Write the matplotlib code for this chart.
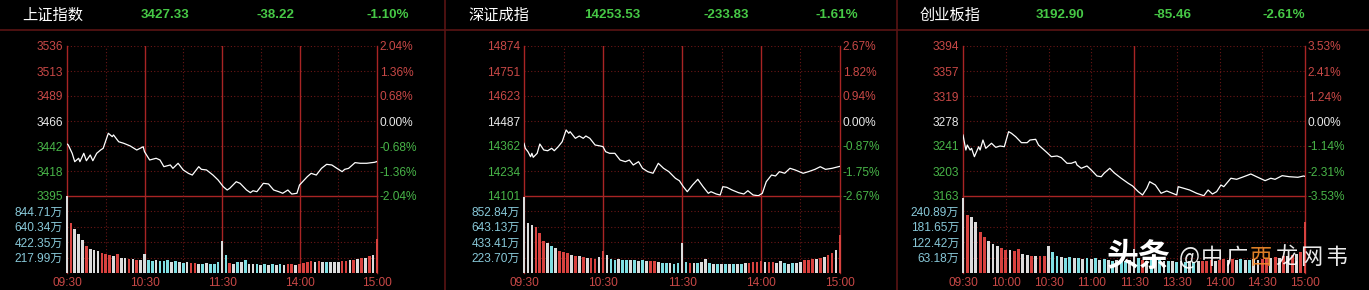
import numpy as np
import matplotlib
matplotlib.use('Agg')
import matplotlib.pyplot as plt
from matplotlib.lines import Line2D

plt.rcParams['font.family'] = ['Liberation Sans', 'Noto Sans CJK SC', 'DejaVu Sans']

# ---------------- data ----------------
names = ['上证指数', '深证成指', '创业板指']
last_vals = ['3427.33', '14253.53', '3192.90']
chg_vals = ['-38.22', '-233.83', '-85.46']
pct_vals = ['-1.10%', '-1.61%', '-2.61%']

left_labels = [
    ['3536', '3513', '3489', '3466', '3442', '3418', '3395'],
    ['14874', '14751', '14623', '14487', '14362', '14234', '14101'],
    ['3394', '3357', '3319', '3278', '3241', '3203', '3163'],
]
right_labels = [
    ['2.04%', '1.36%', '0.68%', '0.00%', '-0.68%', '-1.36%', '-2.04%'],
    ['2.67%', '1.82%', '0.94%', '0.00%', '-0.87%', '-1.75%', '-2.67%'],
    ['3.53%', '2.41%', '1.24%', '0.00%', '-1.14%', '-2.31%', '-3.53%'],
]
price_lo = [3394.85, 14100.5, 3162.63]
price_hi = [3536.25, 14874.2, 3394.08]

vol_labels = [
    ['844.71万', '640.34万', '422.35万', '217.99万'],
    ['852.84万', '643.13万', '433.41万', '223.70万'],
    ['240.89万', '181.65万', '122.42万', '63.18万'],
]
vol_max = [1056.0, 1062.55, 300.12]

# minute index (0 = 09:30, 120 = 11:30/13:00, 240 = 15:00)
p1_t = [0,1,4,6,9,10,13,15,18,20,23,26,28,32,35,36,40,44,49,54,59,60,64,69,72,75,80,82,86,90,
        94,97,102,104,108,113,117,121,124,126,131,134,139,142,144,147,152,156,160,164,167,171,174,178,180,
        186,189,193,197,201,205,209,213,215,218,223,227,232,238,240]
p1_v = [3443.9,3442.9,3435.1,3427.2,3430.4,3427.2,3435.1,3428.1,3433.5,3428.1,3435.1,3438.2,3439.8,3454.0,
        3450.8,3452.4,3446.0,3444.5,3442.0,3438.2,3441.3,3436.6,3428.8,3430.4,3428.8,3422.5,3424.1,3420.9,
        3425.7,3419.4,3416.2,3414.6,3422.5,3420.0,3419.4,3414.6,3409.9,3403.6,3400.5,3402.1,3408.3,3406.8,
        3400.5,3398.0,3399.8,3398.9,3406.8,3406.2,3400.5,3398.9,3397.4,3400.5,3396.7,3397.4,3405.2,3413.0,
        3416.2,3414.6,3420.9,3424.7,3424.1,3420.9,3417.8,3420.0,3420.9,3426.3,3425.7,3425.7,3426.6,3427.33]

p2_t = [0,1,3,5,6,7,10,12,15,18,21,23,26,29,32,34,35,39,42,45,47,50,54,58,60,62,65,69,73,77,80,83,87,90,
        94,98,102,106,110,115,118,121,124,128,132,136,140,142,146,149,151,154,158,163,167,170,174,178,181,
        184,188,191,194,198,202,206,212,216,221,225,229,234,239,240]
p2_v = [14372.3,14346.5,14329,14303,14320.7,14300,14320.7,14368.7,14337.8,14334,14346.5,14334,14354.8,
        14380.6,14441,14424,14432.2,14398,14410,14398,14410,14398,14363.6,14358.4,14355,14329,14320.7,
        14320.7,14286,14277.5,14286,14260.4,14277.5,14243.4,14226,14217.8,14269.2,14243.4,14226,14191.8,
        14179.4,14148.5,14122.7,14157.2,14186.6,14148.5,14114.4,14122.7,14110.8,14105.7,14148.5,14145.4,
        14131.5,14117.5,14110.8,14127.8,14105.7,14102,14114.4,14174.3,14208.8,14203.7,14226,14217.8,
        14243.4,14234.6,14217.8,14226,14238,14251.6,14238,14243.4,14252,14253.53]

p3_t = [0,2,3,5,6,8,11,12,14,16,20,23,26,29,32,34,37,41,45,47,51,53,59,62,66,69,73,76,79,80,83,87,90,
        94,97,99,103,106,111,116,119,123,126,129,131,135,139,143,147,150,151,155,159,164,169,172,175,178,
        181,183,188,192,197,202,206,212,216,219,224,229,235,239,240]
p3_v = [3256.7,3233.6,3241.3,3233.6,3236.2,3223.3,3238.7,3233.6,3249.0,3236.2,3244.0,3237.7,3239.8,3238.7,
        3261.9,3259.4,3254.1,3244.9,3244.9,3249.0,3250.1,3241.3,3229.5,3223.3,3224.4,3221.8,3213.1,3213.1,
        3215.6,3210.5,3205.4,3209.0,3202.8,3193.5,3192.4,3197.7,3205.4,3198.6,3190.0,3182.2,3178.1,3169.3,
        3164.2,3174.5,3184.7,3179.6,3166.8,3170.4,3166.8,3164.2,3177.0,3174.5,3171.9,3166.8,3163.1,3171.9,
        3165.7,3169.3,3179.6,3177.0,3190.0,3188.4,3192.4,3196.6,3192.4,3186.3,3190.0,3188.4,3194.0,3192.4,
        3191.5,3193.5,3192.90]

# volume (万), one bar per 3 minutes starting 09:30
p1_vol = [1051,686,600,540,450,370,330,320,300,270,255,250,240,260,210,200,195,190,185,180,
          255,175,170,175,165,160,175,150,160,145,140,150,135,140,130,125,140,125,130,145,
          434,250,140,130,145,150,175,130,120,125,115,120,115,120,115,125,115,120,130,115,
          125,140,150,160,145,165,150,145,155,150,145,170,165,175,180,190,200,210,230,250,460]
p1_col = "wrwwwrwwwrrrwrwwrwrwwccwcccwcwcwrrwcwcccwcrwcwcwwcwcwcwcwrrwrrrrwrwcwwwrrwrwrwrwr"
p2_vol = [1044,687,664,641,550,435,412,366,343,298,284,275,252,229,235,220,206,210,200,215,
          298,252,200,185,190,180,185,175,180,170,175,165,160,170,150,140,135,140,130,135,
          412,145,140,135,140,150,192,135,130,125,130,125,120,130,125,130,135,140,150,145,
          170,150,145,150,140,170,135,130,140,135,150,174,180,200,190,206,220,252,275,320,527]
p2_col = "wwwrrrwcwrrrwrwrwrrwrwccwccwcwcwrrwccwccwcrwcwwcwcwcwcwcwrrrrwrrwwcwcwwrrrwrwrrwr"
p3_vol = [291,226,220,200,160,142,125,112,104,97,90,88,84,95,75,70,68,66,65,67,
          104,80,65,62,60,62,58,60,56,58,55,57,52,55,50,48,50,45,48,50,
          95,60,50,48,50,55,60,48,45,46,44,45,42,46,44,46,45,48,50,46,
          52,55,50,54,52,55,50,52,54,52,55,58,60,62,60,65,68,72,75,80,200]
p3_col = "wrwwrrwwwrrwrrwwrwrrwccwccwcwcwcwcwcwccwwcrwcwcwcwcwcwcwrrrwrrwrwcwcwwrrwrwrwrwrr"

time_ticks = [[0, 60, 120, 180, 240],
              [0, 60, 120, 180, 240],
              [0, 30, 60, 90, 120, 150, 180, 210, 240]]
time_labels = [['09:30', '10:30', '11:30', '14:00', '15:00'],
               ['09:30', '10:30', '11:30', '14:00', '15:00'],
               ['09:30', '10:00', '10:30', '11:00', '11:30', '13:30', '14:00', '14:30', '15:00']]

# ---------------- style / layout ----------------
W, H = 1369, 290
BG = '#000000'
GRID = '#6a1616'
SOLID = '#a82424'
DIV = '#5a1414'
RED_T = '#c84846'
GRN_T = '#48b448'
WHT_T = '#e8e8e8'
VOL_T = '#88c8d8'
HDR_G = '#46c846'
BAR_C = {'w': '#dcdcdc', 'r': '#d8423f', 'c': '#7fdfe3'}
FS = 8.6

panel_x = [(67, 377), (524, 840), (963, 1305)]
solid_v = [[60, 120, 180], [60, 120, 180], [120]]
dotted_v = [[30, 90, 150, 210], [30, 90, 150, 210], [30, 60, 90, 150, 180, 210]]
hdr_pos = [(22, 165, 275.5, 387.5), (468, 612.5, 726.5, 836.5), (920, 1060, 1173, 1284)]

series_t = [p1_t, p2_t, p3_t]
series_v = [p1_v, p2_v, p3_v]
vols = [p1_vol, p2_vol, p3_vol]
vcols = [p1_col, p2_col, p3_col]

fig = plt.figure(figsize=(W / 100, H / 100), dpi=100, facecolor=BG)


def add_ax(x0, y0, x1, y1):
    a = fig.add_axes([x0 / W, 1 - y1 / H, (x1 - x0) / W, (y1 - y0) / H])
    a.set_facecolor('none')
    return a


DOT = (0, (1, 2))

for i in range(3):
    x0, x1 = panel_x[i]
    lo, hi = price_lo[i], price_hi[i]
    # ---- price axes ----
    ax = add_ax(x0, 46, x1, 196)
    ax.set_xlim(0, 240)
    ax.set_ylim(lo, hi)
    yt = np.linspace(lo, hi, 7)
    for y in yt[1:]:
        ax.axhline(y, color=GRID, ls=DOT, lw=0.8)
    for xv in dotted_v[i]:
        ax.axvline(xv, color=GRID, ls=DOT, lw=0.8)
    for xv in solid_v[i]:
        ax.axvline(xv, color=SOLID, lw=1.0)
    ax.plot(series_t[i], series_v[i], color='white', lw=0.9, zorder=5)
    ax.set_yticks(yt)
    ax.set_yticklabels(left_labels[i][::-1])
    cols = [GRN_T, GRN_T, GRN_T, WHT_T, RED_T, RED_T, RED_T]
    for lbl, c in zip(ax.get_yticklabels(), cols):
        lbl.set_color(c)
    ax.tick_params(axis='y', length=0, pad=3, labelsize=FS)
    ax.set_xticks([])
    for s in ['left', 'right', 'bottom']:
        ax.spines[s].set_color(SOLID)
        ax.spines[s].set_linewidth(1.0)
    ax.spines['top'].set_visible(False)
    ax2 = ax.twinx()
    ax2.set_ylim(lo, hi)
    ax2.set_yticks(yt)
    ax2.set_yticklabels(right_labels[i][::-1])
    for lbl, c in zip(ax2.get_yticklabels(), cols):
        lbl.set_color(c)
    ax2.tick_params(axis='y', length=0, pad=2, labelsize=FS)
    for s in ax2.spines.values():
        s.set_visible(False)

    # ---- volume axes ----
    vx = add_ax(x0, 196, x1, 273)
    vx.set_xlim(0, 240)
    vmax = vol_max[i]
    vx.set_ylim(0, vmax)
    vt = [vmax * k / 5 for k in (1, 2, 3, 4)]
    for y in vt:
        vx.axhline(y, color=GRID, ls=DOT, lw=0.8)
    for xv in dotted_v[i]:
        vx.axvline(xv, color=GRID, ls=DOT, lw=0.8)
    for xv in solid_v[i]:
        vx.axvline(xv, color=SOLID, lw=1.0)
    xs = np.arange(len(vols[i])) * 3
    vx.bar(xs, vols[i], width=2.0, color=[BAR_C[c] for c in vcols[i]], zorder=4, clip_on=False)
    vx.set_yticks(vt)
    vx.set_yticklabels(vol_labels[i][::-1])
    vx.tick_params(axis='y', length=0, pad=3, labelsize=FS, labelcolor=VOL_T)
    vx.set_xticks(time_ticks[i])
    vx.set_xticklabels(time_labels[i])
    vx.tick_params(axis='x', length=0, pad=3, labelsize=FS, labelcolor=RED_T)
    for s in ['left', 'right']:
        vx.spines[s].set_color(SOLID)
        vx.spines[s].set_linewidth(1.0)
    vx.spines['top'].set_visible(False)
    vx.spines['bottom'].set_visible(False)

    # ---- header ----
    nx, vx_, cx, px = hdr_pos[i]
    fig.text(nx / W, 1 - 15 / H, names[i], color='white', fontsize=11, va='center', ha='left',
             family=['Noto Sans CJK SC', 'DejaVu Sans'])
    for s, xc in ((last_vals[i], vx_), (chg_vals[i], cx), (pct_vals[i], px)):
        fig.text(xc / W, 1 - 15 / H, s, color=HDR_G, fontsize=9.6, weight='bold', va='center', ha='center')

# dividers
for xd in (445, 897):
    fig.add_artist(Line2D([xd / W, xd / W], [0, 1], transform=fig.transFigure, color=DIV, lw=1.2))
fig.add_artist(Line2D([0, 1], [1 - 29.5 / H, 1 - 29.5 / H], transform=fig.transFigure, color=DIV, lw=1.2))

# watermark
wm_y = 1 - 257 / H
fig.text(1107 / W, wm_y, '头条', fontsize=23, weight='bold', color='white', va='center', ha='left',
         family=['Noto Sans CJK SC'])
for ch, xc, c in (('@', 1189, 'white'), ('中', 1212, 'white'), ('广', 1236, 'white'),
                  ('西', 1261, '#f08a2a'), ('龙', 1286, 'white'), ('网', 1311, 'white'),
                  ('韦', 1336, 'white')):
    fig.text(xc / W, wm_y, ch, fontsize=16, color=c, va='center', ha='center',
             family=['Noto Sans CJK SC'], alpha=0.92)

fig.savefig('out.png', dpi=100, facecolor=BG)
